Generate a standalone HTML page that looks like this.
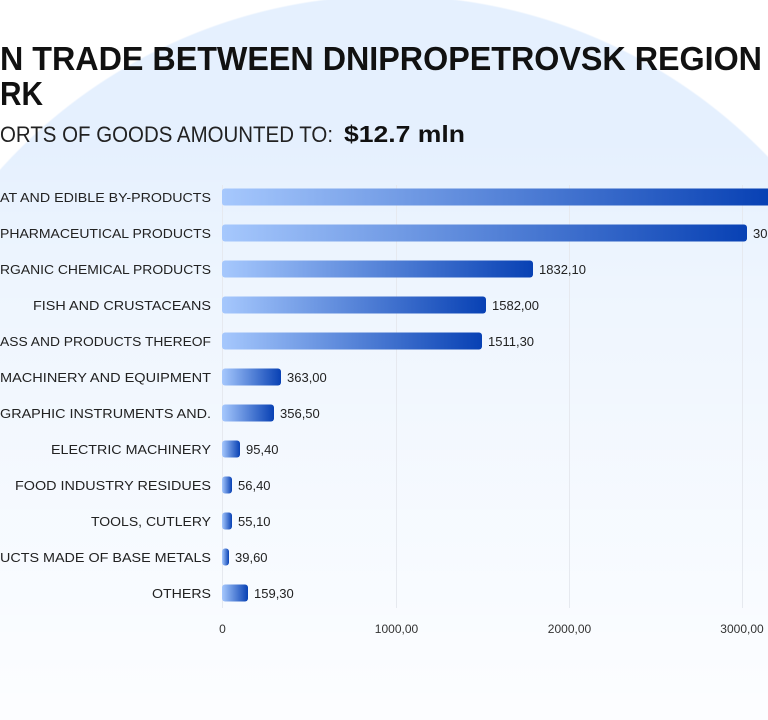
<!DOCTYPE html>
<html><head><meta charset="utf-8"><style>
html,body{margin:0;padding:0;width:768px;height:720px;overflow:hidden}
body{background:radial-gradient(circle 525px at 390px 520px,#e5f0fe 99.7%,#fff 100%)}
svg{display:block}
</style></head><body>
<svg width="768" height="720" viewBox="0 0 768 720" xmlns="http://www.w3.org/2000/svg" font-family="Liberation Sans, sans-serif">
<defs>
<linearGradient id="g" x1="0" x2="1" y1="0" y2="0"><stop offset="0" stop-color="#a6c8fd"/><stop offset="1" stop-color="#0841b4"/></linearGradient>
<linearGradient id="fade" x1="0" x2="0" y1="0" y2="1"><stop offset="0" stop-color="#fff" stop-opacity="0"/><stop offset="0.25" stop-color="#fff" stop-opacity="0.35"/><stop offset="1" stop-color="#fff" stop-opacity="0.9"/></linearGradient>
</defs>
<rect x="0" y="140" width="768" height="580" fill="url(#fade)"/>
<text x="0" y="70" font-size="33" font-weight="bold" fill="#111" textLength="762" lengthAdjust="spacingAndGlyphs">N TRADE BETWEEN DNIPROPETROVSK REGION</text>
<text x="0" y="105" font-size="33" font-weight="bold" fill="#111" textLength="43" lengthAdjust="spacingAndGlyphs">RK</text>
<text x="0" y="142" font-size="22" fill="#222" textLength="333" lengthAdjust="spacingAndGlyphs">ORTS OF GOODS AMOUNTED TO:</text>
<text x="344" y="142" font-size="23" font-weight="bold" fill="#111" textLength="121" lengthAdjust="spacingAndGlyphs">$12.7  mln</text>
<g stroke="#e6e9ef" stroke-width="1">
<line x1="222.5" y1="185" x2="222.5" y2="608"/><line x1="396.5" y1="185" x2="396.5" y2="608"/><line x1="569.5" y1="185" x2="569.5" y2="608"/><line x1="742.5" y1="185" x2="742.5" y2="608"/>
</g>
<g font-size="13" fill="#222" text-anchor="end">
<text x="211" y="202" textLength="211" lengthAdjust="spacingAndGlyphs">AT AND EDIBLE BY-PRODUCTS</text>
<text x="211" y="238" textLength="211" lengthAdjust="spacingAndGlyphs">PHARMACEUTICAL PRODUCTS</text>
<text x="211" y="274" textLength="211" lengthAdjust="spacingAndGlyphs">RGANIC CHEMICAL PRODUCTS</text>
<text x="211" y="310" textLength="178" lengthAdjust="spacingAndGlyphs">FISH AND CRUSTACEANS</text>
<text x="211" y="346" textLength="211" lengthAdjust="spacingAndGlyphs">ASS AND PRODUCTS THEREOF</text>
<text x="211" y="382" textLength="211" lengthAdjust="spacingAndGlyphs">MACHINERY AND EQUIPMENT</text>
<text x="211" y="418" textLength="211" lengthAdjust="spacingAndGlyphs">GRAPHIC INSTRUMENTS AND.</text>
<text x="211" y="454" textLength="160" lengthAdjust="spacingAndGlyphs">ELECTRIC MACHINERY</text>
<text x="211" y="490" textLength="196" lengthAdjust="spacingAndGlyphs">FOOD INDUSTRY RESIDUES</text>
<text x="211" y="526" textLength="120" lengthAdjust="spacingAndGlyphs">TOOLS, CUTLERY</text>
<text x="211" y="562" textLength="211" lengthAdjust="spacingAndGlyphs">UCTS MADE OF BASE METALS</text>
<text x="211" y="598" textLength="59" lengthAdjust="spacingAndGlyphs">OTHERS</text>
</g>
<path d="M225 188.5 H768 V205.5 H225 Q222 205.5 222 202.5 V191.5 Q222 188.5 225 188.5 Z" fill="url(#g)"/>
<g fill="url(#g)">
<rect x="222" y="224.5" width="525" height="17" rx="3"/>
<rect x="222" y="260.5" width="311" height="17" rx="3"/>
<rect x="222" y="296.5" width="264" height="17" rx="3"/>
<rect x="222" y="332.5" width="260" height="17" rx="3"/>
<rect x="222" y="368.5" width="59" height="17" rx="3"/>
<rect x="222" y="404.5" width="52" height="17" rx="3"/>
<rect x="222" y="440.5" width="18" height="17" rx="3"/>
<rect x="222" y="476.5" width="10" height="17" rx="3"/>
<rect x="222" y="512.5" width="10" height="17" rx="3"/>
<rect x="222" y="548.5" width="7" height="17" rx="3"/>
<rect x="222" y="584.5" width="26" height="17" rx="3"/>
</g>
<g font-size="13" fill="#222">
<text x="753" y="238">30</text>
<text x="539" y="274">1832,10</text>
<text x="492" y="310">1582,00</text>
<text x="488" y="346">1511,30</text>
<text x="287" y="382">363,00</text>
<text x="280" y="418">356,50</text>
<text x="246" y="454">95,40</text>
<text x="238" y="490">56,40</text>
<text x="238" y="526">55,10</text>
<text x="235" y="562">39,60</text>
<text x="254" y="598">159,30</text>
</g>
<g font-size="12" fill="#333" text-anchor="middle">
<text x="222.5" y="633">0</text>
<text x="396.5" y="633">1000,00</text>
<text x="569.5" y="633">2000,00</text>
<text x="742" y="633">3000,00</text>
</g>
</svg>
</body></html>
